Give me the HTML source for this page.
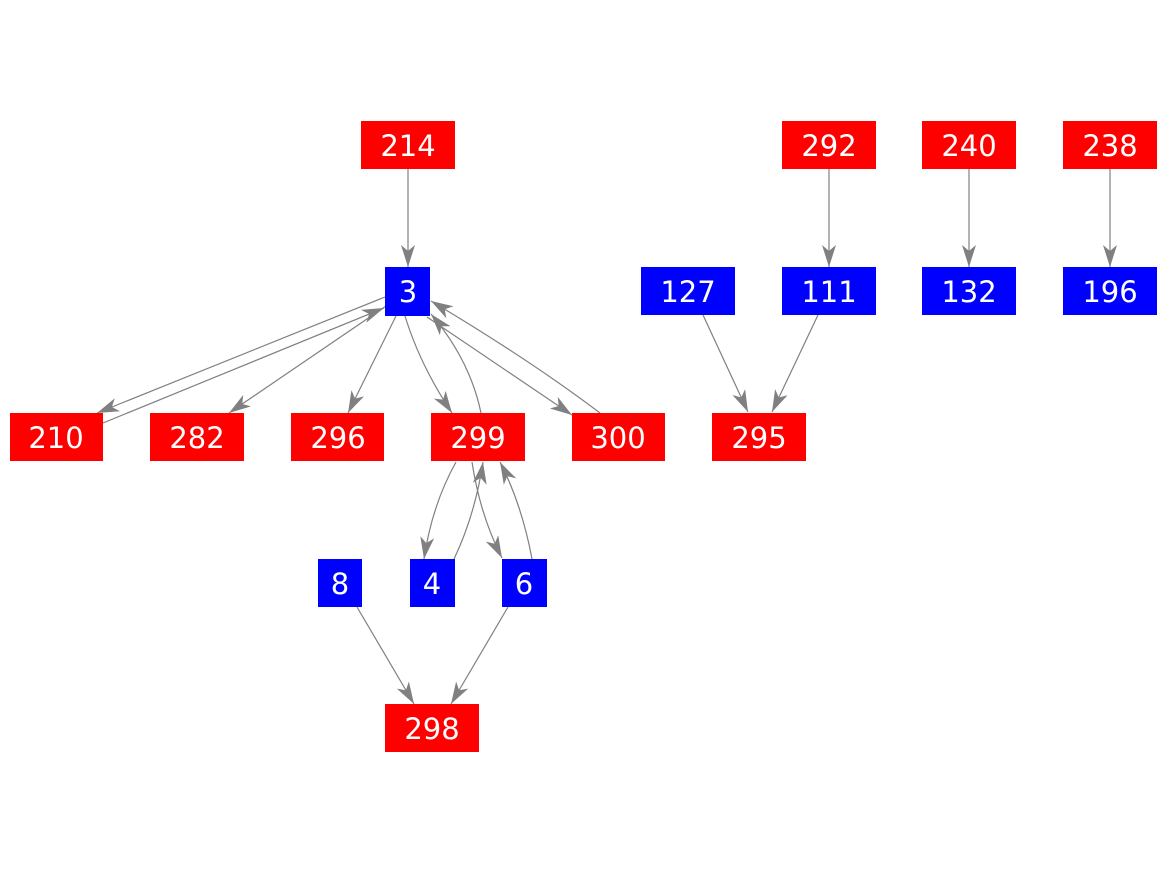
<!DOCTYPE html>
<html><head><style>
html,body{margin:0;padding:0;background:#fff;}
svg{display:block;}
text{font-family:"DejaVu Sans","Liberation Sans",sans-serif;font-size:29px;fill:#fff;text-anchor:middle;dominant-baseline:central;}
</style></head><body>
<svg width="1167" height="875" viewBox="0 0 1167 875" xmlns="http://www.w3.org/2000/svg">
<defs>
<marker id="a" markerWidth="24" markerHeight="16" refX="22" refY="7" orient="auto" markerUnits="userSpaceOnUse">
<path d="M0,0 L22,7 L0,14 L6,7 Z" fill="#808080"/>
</marker>
</defs>
<g stroke="#808080" stroke-width="1.2" fill="none" marker-end="url(#a)">
<line x1="408" y1="169" x2="408" y2="267"/>
<line x1="829" y1="169" x2="829" y2="267"/>
<line x1="969" y1="169" x2="969" y2="267"/>
<line x1="1110" y1="169" x2="1110" y2="267"/>
<line x1="385" y1="297" x2="97" y2="413"/>
<line x1="103" y1="423" x2="384" y2="308"/>
<line x1="386" y1="306" x2="229" y2="413"/>
<line x1="396" y1="316" x2="348" y2="413"/>
<path d="M405,316 Q420,365 452,413"/>
<path d="M481,413 Q470,360 431,314"/>
<line x1="427" y1="317" x2="572" y2="415"/>
<path d="M600,413 Q530,360 431,301"/>
<path d="M456,462 Q432,505 424,559"/>
<path d="M454,559 Q475,515 483,462"/>
<path d="M472,462 Q480,515 502,558"/>
<path d="M532,559 Q522,505 500,462"/>
<line x1="357" y1="607" x2="414" y2="704"/>
<line x1="508" y1="607" x2="451" y2="704"/>
<line x1="703" y1="315" x2="748" y2="412"/>
<line x1="818" y1="315" x2="772" y2="412"/>
</g>
<g fill="#ff0000">
<rect x="361" y="121" width="94" height="48"/>
<rect x="782" y="121" width="94" height="48"/>
<rect x="922" y="121" width="94" height="48"/>
<rect x="1063" y="121" width="94" height="48"/>
<rect x="10" y="413" width="93" height="48"/>
<rect x="150" y="413" width="94" height="48"/>
<rect x="291" y="413" width="93" height="48"/>
<rect x="431" y="413" width="94" height="48"/>
<rect x="572" y="413" width="93" height="48"/>
<rect x="712" y="413" width="94" height="48"/>
<rect x="385" y="704" width="94" height="48"/>
</g>
<g fill="#0000ff">
<rect x="385" y="267" width="45" height="49"/>
<rect x="641" y="267" width="94" height="48"/>
<rect x="782" y="267" width="94" height="48"/>
<rect x="922" y="267" width="94" height="48"/>
<rect x="1063" y="267" width="94" height="48"/>
<rect x="318" y="559" width="44" height="48"/>
<rect x="410" y="559" width="45" height="48"/>
<rect x="502" y="559" width="45" height="48"/>
</g>
<text x="408" y="146">214</text>
<text x="829" y="146">292</text>
<text x="969" y="146">240</text>
<text x="1110" y="146">238</text>
<text x="408" y="292">3</text>
<text x="688" y="292">127</text>
<text x="829" y="292">111</text>
<text x="969" y="292">132</text>
<text x="1110" y="292">196</text>
<text x="56" y="438">210</text>
<text x="197" y="438">282</text>
<text x="338" y="438">296</text>
<text x="478" y="438">299</text>
<text x="618" y="438">300</text>
<text x="759" y="438">295</text>
<text x="340" y="584">8</text>
<text x="432" y="584">4</text>
<text x="524" y="584">6</text>
<text x="432" y="729">298</text>
</svg>
</body></html>
